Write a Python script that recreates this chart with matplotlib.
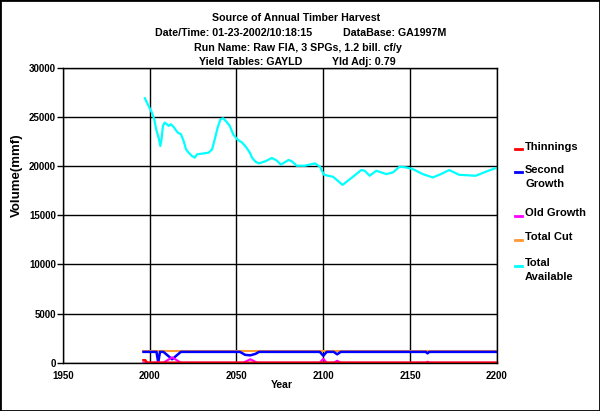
import matplotlib
matplotlib.use("Agg")
import matplotlib.pyplot as plt
from matplotlib.lines import Line2D
from matplotlib.patches import Rectangle

plt.rcParams['font.family'] = ['Liberation Sans', 'DejaVu Sans']
plt.rcParams['font.weight'] = 'bold'

# Total Available (cyan)
avail_years = [1997.3, 1999.4, 2001.3, 2002.7, 2003.8, 2005.2, 2006.2, 2006.9, 2007.7, 2008.7,
               2010, 2011, 2012.3, 2013.8, 2016.2, 2018.1, 2019.6, 2021, 2022.5, 2024.4,
               2026, 2027.3, 2030.2, 2034, 2036, 2037.3, 2039.2, 2040.8, 2042.3, 2044.2,
               2046.2, 2048.1, 2050.4, 2053.3, 2055.8, 2057.7, 2059, 2061, 2062.9, 2066.6,
               2070.4, 2073.3, 2075.6, 2080, 2081.9, 2084.7, 2089.5, 2095.2, 2098.1, 2100.4,
               2105.7, 2111.1, 2115.3, 2121.9, 2123.9, 2126.7, 2130.5, 2136.3, 2140.1, 2143.9,
               2147.7, 2151.5, 2157.3, 2163, 2167.7, 2172.5, 2178.2, 2187.8, 2193.5, 2199.2]
avail_vals = [26900, 26120, 25440, 24760, 23740, 22890, 22040, 22720, 24080, 24420,
              24250, 24080, 24250, 23980, 23400, 23230, 22550, 21700, 21360, 21020,
              20850, 21190, 21260, 21360, 21700, 22550, 23910, 24760, 24860, 24520,
              24080, 23230, 22720, 22380, 21870, 21360, 20850, 20440, 20270, 20480,
              20820, 20550, 20140, 20620, 20480, 20030, 20030, 20270, 19930, 19110,
              18900, 18080, 18660, 19590, 19520, 19010, 19520, 19180, 19350, 19930,
              19860, 19690, 19180, 18840, 19180, 19590, 19110, 19010, 19420, 19790]

# Second Growth (blue)
sg_years = [1996.5, 2004, 2005, 2006, 2008, 2013, 2018, 2052, 2055, 2058, 2061, 2063,
            2098, 2100, 2102, 2106, 2108, 2110, 2159, 2160, 2161, 2200]
sg_vals = [1100, 1100, 0, 1100, 1100, 350, 1100, 1100, 800, 750, 900, 1100,
           1100, 700, 1100, 1100, 850, 1100, 1100, 950, 1100, 1100]

# Old Growth (magenta)
og_years = [1996.5, 2004, 2005, 2006, 2008, 2013, 2018, 2054, 2058, 2062,
            2098, 2100, 2102, 2106, 2108, 2110, 2159, 2160, 2161, 2200]
og_vals = [0, 0, 100, 0, 0, 550, 0, 0, 350, 0,
           0, 400, 0, 0, 200, 0, 0, 100, 0, 0]

# Total Cut (orange)
cut_years = [1996.5, 2200]
cut_vals = [1220, 1220]

# Thinnings (red)
thin_years = [1996.5, 1997.5, 1998.5, 2200]
thin_vals = [250, 250, 0, 0]

legend_labels = ["Thinnings", "Second\nGrowth", "Old Growth", "Total Cut", "Total\nAvailable"]
legend_colors = ["#ff0000", "#0000ff", "#ff00ff", "#ff9933", "#00ffff"]

W, H = 600, 411
fig = plt.figure(figsize=(6, 4.11), dpi=100)
ax = fig.add_axes([62.7 / W, 1 - 362.7 / H, (497 - 62.7) / W, (362.7 - 67.7) / H])

ax.plot(cut_years, cut_vals, color=legend_colors[3], lw=1.5)
ax.plot(sg_years, sg_vals, color=legend_colors[1], lw=1.8)
ax.plot(og_years, og_vals, color=legend_colors[2], lw=1.5)
ax.plot(thin_years, thin_vals, color=legend_colors[0], lw=1.8, clip_on=False)
ax.plot(avail_years, avail_vals, color=legend_colors[4], lw=1.6)

ax.set_xlim(1950, 2200)
ax.set_ylim(0, 30000)
ax.set_xticks(range(1950, 2201, 50))
ax.set_yticks(range(0, 30001, 5000))
ax.grid(True, color='black', lw=1.0)
ax.set_axisbelow(True)
for s in ax.spines.values():
    s.set_color('black')
    s.set_linewidth(1.0)
ax.tick_params(axis='x', length=0, pad=6, labelsize=7)
ax.tick_params(axis='y', length=4, width=1, pad=1, labelsize=7)
for lab in ax.get_xticklabels() + ax.get_yticklabels():
    lab.set_fontweight('bold')

fig.text(281.7 / W, 1 - 385 / H, "Year", ha='center', va='center', fontsize=7.5, fontweight='bold')
fig.text(17 / W, 1 - 175 / H, "Volume(mmf)", ha='center', va='center', rotation=90,
         fontsize=9.5, fontweight='bold')

# header lines
def ftext(x, y, s, ha='left'):
    fig.text(x / W, 1 - y / H, s, ha=ha, va='center', fontsize=7.7, fontweight='bold')

ftext(296, 18, "Source of Annual Timber Harvest", ha='center')
ftext(155, 33.5, "Date/Time: 01-23-2002/10:18:15")
ftext(343, 33.5, "DataBase: GA1997M")
ftext(298, 48, "Run Name: Raw FIA, 3 SPGs, 1.2 bill. cf/y", ha='center')
ftext(199, 61.7, "Yield Tables: GAYLD")
ftext(332, 61.7, "Yld Adj: 0.79")

# legend on the right
leg_y = [146.7, 170, 213.3, 237.3, 263.3]
for lbl, col, y in zip(legend_labels, legend_colors, leg_y):
    fig.add_artist(Line2D([515 / W, 522 / W], [1 - (y + 2.5) / H] * 2, color=col, lw=2))
    for i, part in enumerate(lbl.split("\n")):
        fig.text(525 / W, 1 - (y + i * 14) / H, part, ha='left', va='center',
                 fontsize=8, fontweight='bold')

fig.add_artist(Rectangle((0, 0), 1, 1, transform=fig.transFigure, fill=False,
                         ec='black', lw=2))

fig.savefig("out.png", dpi=100)
